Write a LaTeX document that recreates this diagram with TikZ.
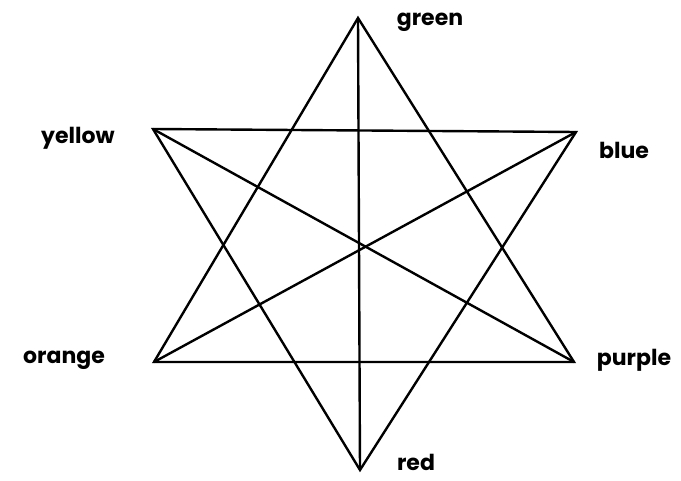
\documentclass[tikz,border=0pt]{standalone}
\usepackage{fontspec}
\setmainfont{Poppins}
\begin{document}
\begin{tikzpicture}[x=1pt,y=-1pt,
  edge/.style={line width=2.4pt,line join=miter,line cap=round},
  lbl/.style={font=\fontsize{22}{25}\selectfont\bfseries,inner sep=0pt}]
\useasboundingbox (0,0) rectangle (681,481);
\coordinate (G) at (358,18);
\coordinate (R) at (360,470);
\coordinate (Y) at (153,129);
\coordinate (B) at (576,132);
\coordinate (O) at (154,362);
\coordinate (P) at (574,362);
% triangles
\draw[edge] (G) -- (O) -- (P) -- cycle;
\draw[edge] (Y) -- (B) -- (R) -- cycle;
% diagonals
\draw[edge] (G) -- (R);
\draw[edge] (Y) -- (P);
\draw[edge] (B) -- (O);
% labels
\node[lbl] (lg) at (430,22) {green};
\node[lbl] (ly) at (78,138) {yellow};
\node[lbl] (lb) at (624,150) {blue};
\node[lbl] (lo) at (64,360) {orange};
\node[lbl] (lp) at (634,360) {purple};
\node[lbl] (lr) at (416,462) {red};
\end{tikzpicture}
\end{document}
